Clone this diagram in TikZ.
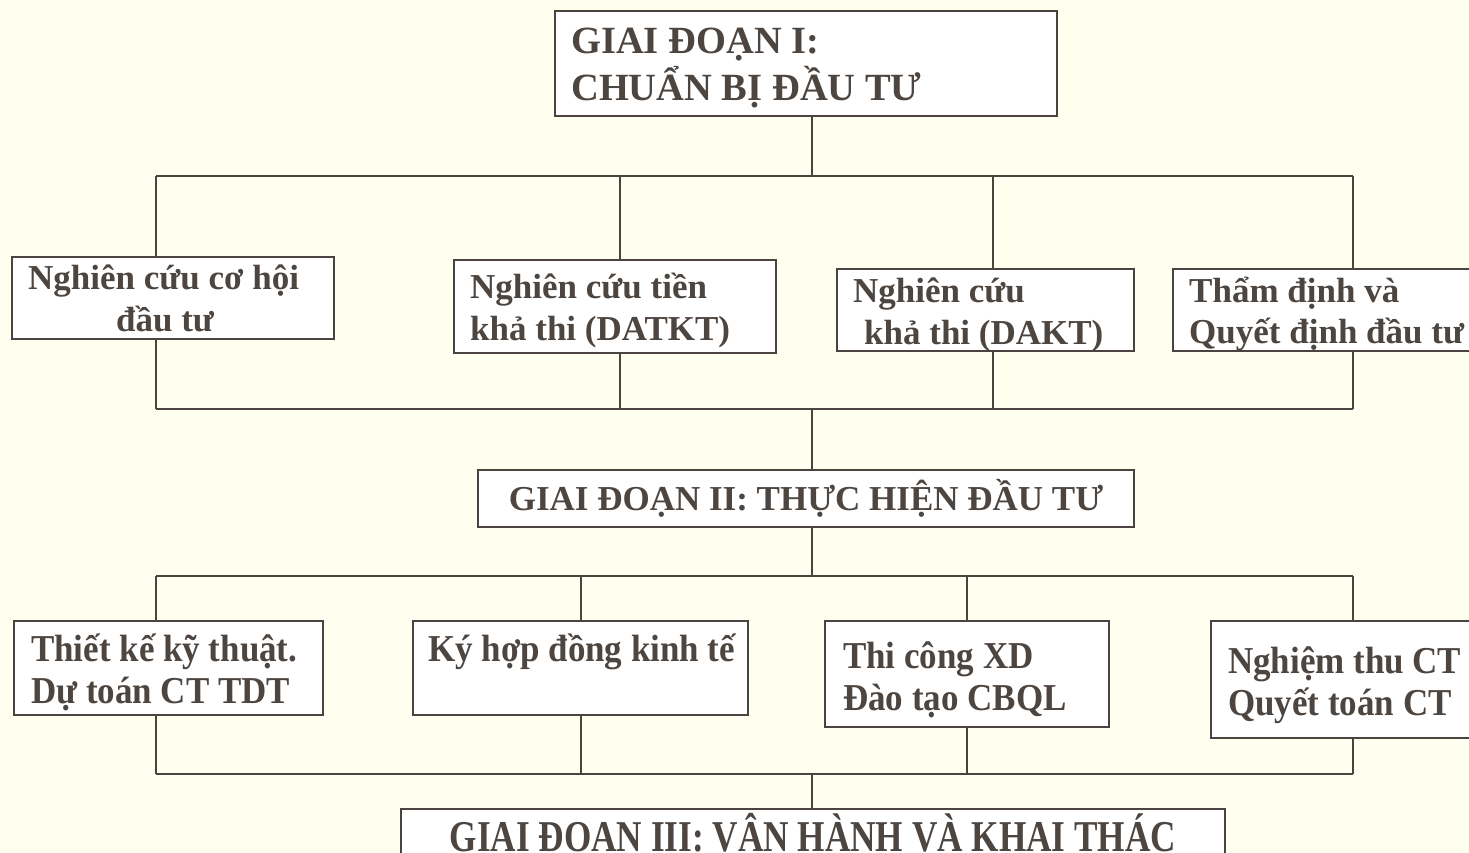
\documentclass[tikz,border=0pt]{standalone}
\usepackage{fontspec}
\setmainfont{Liberation Serif}
\newfontfamily\condrow[FakeStretch=0.92]{Liberation Serif}
\newfontfamily\condttl[FakeStretch=0.8]{Liberation Serif}
\usetikzlibrary{fit}
\definecolor{bg}{RGB}{255,255,240}
\definecolor{ink}{RGB}{77,69,64}
\definecolor{edgec}{RGB}{74,67,63}
\begin{document}
\begin{tikzpicture}[x=1pt,y=-1pt,
  boxst/.style={draw=edgec, line width=2pt, fill=white, inner sep=0pt},
  conn/.style={draw=edgec, line width=1.8pt},
  txt/.style={anchor=base west, inner sep=0pt, text=ink, font=\fontsize{35}{42}\selectfont\bfseries},
  txtc/.style={txt, anchor=base},
  rowtwo/.style={txt, font=\condrow\fontsize{38}{42}\selectfont\bfseries},
  ttl/.style={txt, font=\fontsize{38.5}{46}\selectfont\bfseries},
  ttlthree/.style={txtc, font=\condttl\fontsize{44}{46}\selectfont\bfseries}
]
\useasboundingbox (0,0) rectangle (1469,853);
\clip (0,0) rectangle (1469,853);
\fill[bg] (0,0) rectangle (1469,853);

% ---- bus coordinates
\coordinate (t1) at (156,176);  \coordinate (t2) at (620,176);
\coordinate (t3) at (993,176);  \coordinate (t4) at (1353,176);
\coordinate (tc) at (812,176);
\coordinate (u1) at (156,409);  \coordinate (u2) at (620,409);
\coordinate (u3) at (993,409);  \coordinate (u4) at (1353,409);
\coordinate (uc) at (812,409);
\coordinate (v1) at (156,576);  \coordinate (v2) at (581,576);
\coordinate (v3) at (967,576);  \coordinate (v4) at (1353,576);
\coordinate (vc) at (812,576);
\coordinate (w1) at (156,774);  \coordinate (w2) at (581,774);
\coordinate (w3) at (967,774);  \coordinate (w4) at (1353,774);
\coordinate (wc) at (812,774);

% ---- boxes
\node[boxst, fit={(555,11) (1057,116)}] (g1) {};
\node[boxst, fit={(12,257) (334,339)}] (a1) {};
\node[boxst, fit={(454,260) (776,353)}] (a2) {};
\node[boxst, fit={(837,269) (1134,351)}] (a3) {};
\node[boxst, fit={(1173,269) (1490,351)}] (a4) {};
\node[boxst, fit={(478,470) (1134,527)}] (g2) {};
\node[boxst, fit={(14,621) (323,715)}] (b1) {};
\node[boxst, fit={(413,621) (748,715)}] (b2) {};
\node[boxst, fit={(825,621) (1109,727)}] (b3) {};
\node[boxst, fit={(1211,621) (1490,738)}] (b4) {};
\node[boxst, fit={(401,809) (1225,880)}] (g3) {};

% ---- connectors
\draw[conn] (tc |- g1.south) -- (tc);
\draw[conn] (t1) -- (t4);
\draw[conn] (t1) -- (t1 |- a1.north);
\draw[conn] (t2) -- (t2 |- a2.north);
\draw[conn] (t3) -- (t3 |- a3.north);
\draw[conn] (t4) -- (t4 |- a4.north);
\draw[conn] (u1 |- a1.south) -- (u1);
\draw[conn] (u2 |- a2.south) -- (u2);
\draw[conn] (u3 |- a3.south) -- (u3);
\draw[conn] (u4 |- a4.south) -- (u4);
\draw[conn] (u1) -- (u4);
\draw[conn] (uc) -- (uc |- g2.north);
\draw[conn] (vc |- g2.south) -- (vc);
\draw[conn] (v1) -- (v4);
\draw[conn] (v1) -- (v1 |- b1.north);
\draw[conn] (v2) -- (v2 |- b2.north);
\draw[conn] (v3) -- (v3 |- b3.north);
\draw[conn] (v4) -- (v4 |- b4.north);
\draw[conn] (w1 |- b1.south) -- (w1);
\draw[conn] (w2 |- b2.south) -- (w2);
\draw[conn] (w3 |- b3.south) -- (w3);
\draw[conn] (w4 |- b4.south) -- (w4);
\draw[conn] (w1) -- (w4);
\draw[conn] (wc) -- (wc |- g3.north);

% ---- texts
\node[ttl] (g1l1) at (571,54) {GIAI ĐOẠN I:};
\node[ttl] (g1l2) at (571,101) {CHUẨN BỊ ĐẦU TƯ};

\node[txt] (a1l1) at (28,289) {Nghiên cứu cơ hội};
\node[txtc] (a1l2) at (165,331) {đầu tư};
\node[txt] (a2l1) at (470,298) {Nghiên cứu tiền};
\node[txt] (a2l2) at (470,340) {khả thi (DATKT)};
\node[txt] (a3l1) at (853,302) {Nghiên cứu};
\node[txt] (a3l2) at (864,344) {khả thi (DAKT)};
\node[txt] (a4l1) at (1189,302) {Thẩm định và};
\node[txt] (a4l2) at (1189,343) {Quyết định đầu tư};

\node[txtc] (g2l) at (806,510) {GIAI ĐOẠN II: THỰC HIỆN ĐẦU TƯ};

\node[rowtwo] (b1l1) at (31,661) {Thiết kế kỹ thuật.};
\node[rowtwo] (b1l2) at (31,703) {Dự toán CT TDT};
\node[rowtwo] (b2l1) at (428,661) {Ký hợp đồng kinh tế};
\node[rowtwo] (b3l1) at (843,668) {Thi công XD};
\node[rowtwo] (b3l2) at (843,710) {Đào tạo CBQL};
\node[rowtwo] (b4l1) at (1228,673) {Nghiệm thu CT};
\node[rowtwo] (b4l2) at (1228,715) {Quyết toán CT};

\node[ttlthree] (g3l) at (813,851) {GIAI ĐOẠN III: VẬN HÀNH VÀ KHAI THÁC};
\end{tikzpicture}
\end{document}
